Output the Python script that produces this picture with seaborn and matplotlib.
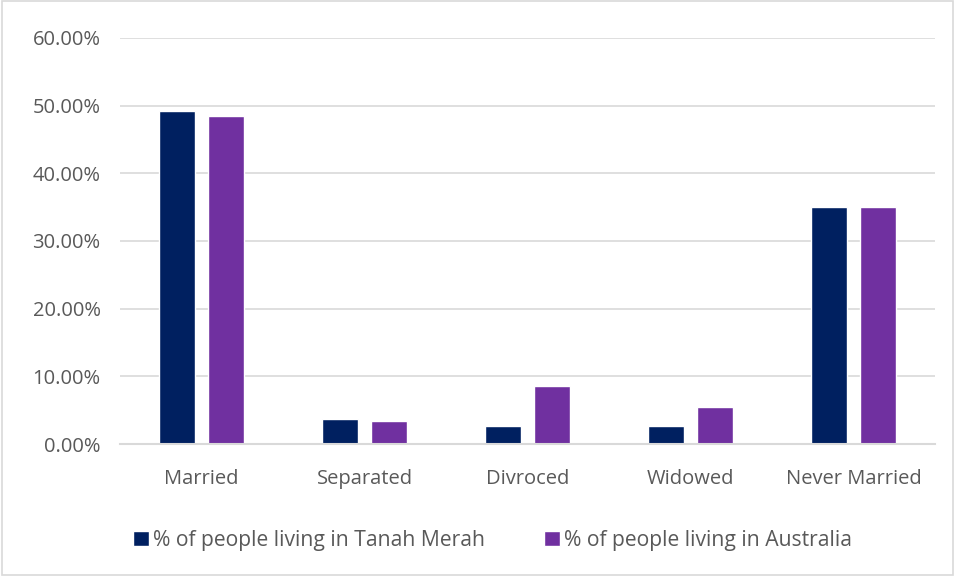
import matplotlib
matplotlib.use("Agg")
import matplotlib.pyplot as plt
import matplotlib.ticker as mticker
from matplotlib.patches import Rectangle
import pandas as pd
import seaborn as sns

categories = ["Married", "Separated", "Divroced", "Widowed", "Never Married"]
tanah_merah = [0.492, 0.037, 0.026, 0.026, 0.350]
australia = [0.484, 0.034, 0.085, 0.054, 0.350]
series_names = ["% of people living in Tanah Merah", "% of people living in Australia"]
colors = ["#002060", "#7030A0"]

df = pd.DataFrame({
    "status": categories * 2,
    "share": tanah_merah + australia,
    "series": [series_names[0]] * len(categories) + [series_names[1]] * len(categories),
})

sns.set_style("white")
plt.rcParams["font.family"] = ["Open Sans", "DejaVu Sans"]

fig = plt.figure(figsize=(9.55, 5.76), dpi=100)
ax = fig.add_axes([120 / 955, 1 - 444 / 576, 815 / 955, 406 / 576])

sns.barplot(data=df, x="status", y="share", hue="series", palette=colors,
            width=0.60, gap=0.25, ax=ax, saturation=1, legend=True)

ax.set_ylim(0, 0.6)
ax.set_xlim(-0.5, len(categories) - 0.5)
ax.yaxis.set_major_locator(mticker.MultipleLocator(0.1))
ax.yaxis.set_major_formatter(mticker.FuncFormatter(lambda v, _: f"{v * 100:.2f}%"))
ax.grid(axis="y", color="#d9d9d9", linewidth=1.2)
ax.set_axisbelow(True)
for s in ["left", "right", "top"]:
    ax.spines[s].set_visible(False)
ax.spines["bottom"].set_color("#d9d9d9")
ax.spines["bottom"].set_linewidth(1.5)
ax.tick_params(axis="both", length=0, labelsize=14.5, colors="#595959")
ax.tick_params(axis="x", pad=18)
ax.tick_params(axis="y", pad=14)
ax.set_xlabel("")
ax.set_ylabel("")

handles, labels = ax.get_legend_handles_labels()
ax.legend(handles, labels, loc="upper center", bbox_to_anchor=(0.457, -0.165),
          ncol=2, frameon=False, fontsize=15.2, labelcolor="#595959",
          handlelength=0.75, handleheight=0.75, handletextpad=0.2, columnspacing=2.8)

fig.patches.append(Rectangle((0.002, 0.002), 0.996, 0.996, transform=fig.transFigure,
                             fill=False, edgecolor="#d9d9d9", linewidth=1.2))

fig.savefig("out.png", dpi=100, facecolor="white")
